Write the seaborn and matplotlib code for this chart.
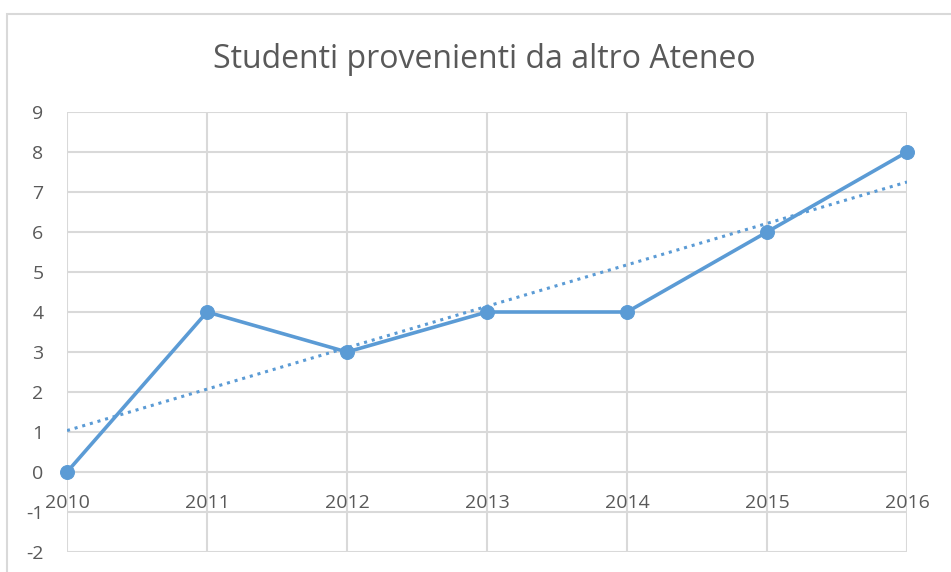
import seaborn as sns
import matplotlib.pyplot as plt
import pandas as pd
from matplotlib.patches import Rectangle

years = ['2010', '2011', '2012', '2013', '2014', '2015', '2016']
studenti = [0, 4, 3, 4, 4, 6, 8]

blue = '#5B9BD5'
grid_col = '#D9D9D9'
text_col = '#595959'

df = pd.DataFrame({'pos': range(len(years)), 'anno': years, 'studenti': studenti})

sns.set_style('white')
plt.rcParams['font.family'] = ['Open Sans', 'DejaVu Sans']
plt.rcParams['axes.unicode_minus'] = False

fig = plt.figure(figsize=(9.51, 5.72), dpi=100)
ax = fig.add_axes([67 / 951, 1 - 552 / 572, (907 - 67) / 951, (552 - 112) / 572])

# cornice del grafico
fig.patches.append(Rectangle((7 / 951, -0.1), 1.2, 1 - 14 / 572 + 0.1, transform=fig.transFigure,
                             fill=False, edgecolor=grid_col, linewidth=1.5, zorder=0))

# linea di tendenza lineare
sns.regplot(data=df, x='pos', y='studenti', ax=ax, scatter=False, ci=None,
            line_kws={'color': blue, 'linestyle': (0, (1, 1.6)), 'linewidth': 2.2})

sns.lineplot(data=df, x='pos', y='studenti', ax=ax, color=blue, linewidth=2.6,
             marker='o', markersize=10, markeredgecolor=blue, zorder=5, clip_on=False)

ax.set_xlim(0, len(years) - 1)
ax.set_ylim(-2, 9)
ax.set_yticks(range(-2, 10))
ax.set_xticks(df['pos'])
ax.set_xticklabels([])
ax.grid(True, color=grid_col, linewidth=1.5)
ax.set_axisbelow(True)
for s in ax.spines.values():
    s.set_visible(False)
ax.tick_params(axis='y', length=0, pad=17, labelsize=14, labelcolor=text_col)
ax.tick_params(axis='x', length=0)
ax.set_xlabel('')
ax.set_ylabel('')

# etichette anni sotto la linea dello zero
for p, a in zip(df['pos'], years):
    ax.annotate(a, (p, 0), xytext=(0, -31), textcoords='offset pixels',
                ha='center', va='center', fontsize=14, color=text_col)

fig.text(484 / 951, 1 - 60 / 572, 'Studenti provenienti da altro Ateneo', ha='center', va='center',
         fontsize=23, color=text_col)

fig.savefig('out.png', dpi=100)
